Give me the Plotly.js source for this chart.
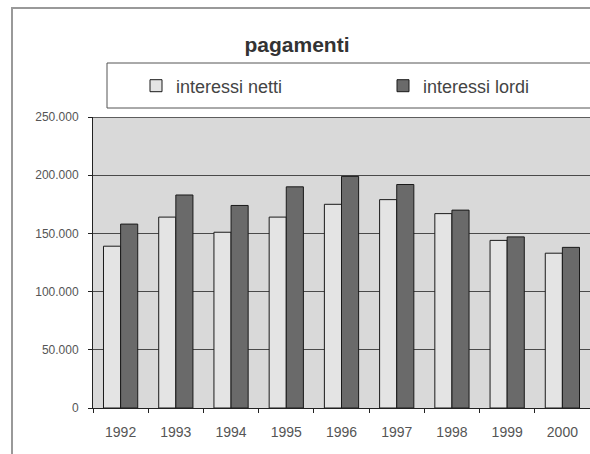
<!DOCTYPE html>
<html>
<head>
<meta charset="utf-8">
<script src="https://cdn.plot.ly/plotly-3.0.1.min.js"></script>
<style>html,body{margin:0;padding:0;background:#fff;}#chart{width:590px;height:454px;}</style>
</head>
<body>
<div id="chart"></div>
<script>
var years = ['1992','1993','1994','1995','1996','1997','1998','1999','2000'];
var interessiNetti = [139000, 164000, 151000, 164000, 175000, 179000, 167000, 144000, 133000];
var interessiLordi = [158000, 183000, 174000, 190000, 199000, 192000, 170000, 147000, 138000];
var seriesNames = ['interessi netti', 'interessi lordi'];
var yTicks = [0, 50000, 100000, 150000, 200000, 250000];

var L = 93, R = 0, T = 117, B = 46, W = 590, H = 454;
var pw = W - L - R, ph = H - T - B;
function px(x){ return (x - L) / pw; }
function py(y){ return (H - B - y) / ph; }

var traces = [
  {type:'bar', name: seriesNames[0], x: years, y: interessiNetti, legend: 'legend',
   marker:{color:'#e4e4e4', line:{color:'#1a1a1a', width:1}}},
  {type:'bar', name: seriesNames[1], x: years, y: interessiLordi, legend: 'legend2',
   marker:{color:'#6a6a6a', line:{color:'#1a1a1a', width:1}}}
];

function legendAt(xpx){
  return {orientation: 'h', x: px(xpx), y: py(86), xanchor: 'left', yanchor: 'middle',
          bgcolor: 'rgba(0,0,0,0)', borderwidth: 0, font: {size: 18, color: '#444'}, itemwidth: 30};
}

var layout = {
  width: W, height: H,
  margin: {l: L, r: R, t: T, b: B, pad: 0},
  paper_bgcolor: '#ffffff',
  plot_bgcolor: '#d9d9d9',
  separators: ',.',
  font: {family: 'Liberation Sans, Arial, sans-serif', color: '#555', size: 12},
  title: {text: '<b>pagamenti</b>', font: {size: 21, color: '#333', family: 'Liberation Sans, Arial, sans-serif'},
          xref: 'container', yref: 'container', x: 297/590, y: 1 - 45/454, xanchor: 'center', yanchor: 'middle'},
  barmode: 'group',
  bargap: 0.38,
  bargroupgap: 0,
  showlegend: true,
  legend: legendAt(136),
  legend2: legendAt(383),
  xaxis: {type: 'category', showgrid: false, showline: true, linecolor: '#222', linewidth: 1,
          ticks: 'outside', tickson: 'boundaries', ticklen: 4, tickcolor: '#222',
          ticklabelstandoff: 11, tickfont: {size: 14, color: '#555'}, zeroline: false},
  yaxis: {range: [0, 250000], tickvals: yTicks, tickformat: ',d', showgrid: true, gridcolor: '#4a4a4a', gridwidth: 1,
          showline: true, linecolor: '#222', linewidth: 1, ticks: 'outside', ticklen: 4, tickcolor: '#222',
          ticklabelstandoff: 7, tickfont: {size: 12, color: '#555'}, zeroline: false},
  shapes: [
    {type: 'rect', xref: 'paper', yref: 'paper', x0: px(12), x1: px(620), y0: py(8), y1: py(470),
     line: {color: '#999', width: 2}, fillcolor: 'rgba(0,0,0,0)', layer: 'below'},
    {type: 'rect', xref: 'paper', yref: 'paper', x0: px(107), x1: px(620), y0: py(63), y1: py(108),
     line: {color: '#555', width: 1}, fillcolor: 'rgba(0,0,0,0)', layer: 'above'},
    {type: 'line', xref: 'paper', yref: 'y', x0: 0, x1: 1, y0: 250000, y1: 250000,
     line: {color: '#333', width: 1.5}, layer: 'above'}
  ]
};

Plotly.newPlot('chart', traces, layout, {displayModeBar: false, staticPlot: true});
</script>
</body>
</html>
